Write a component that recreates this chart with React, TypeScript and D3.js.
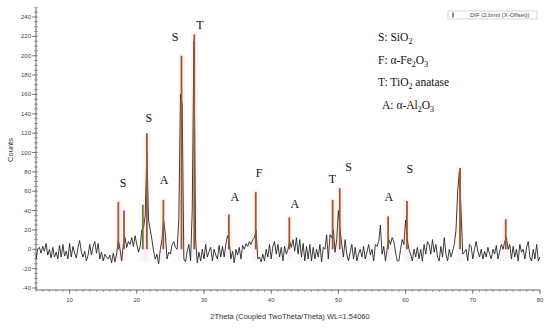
import * as d3 from "d3";

// measured pattern, 2θ from 5° in 0.25° steps
const start = 5;
const step = 0.25;
const counts: number[] = [
  -10, 0, 2, -4,
  3, -2, 6, -6,
  0, -9, 2, -8,
  -3, -10, 4, -8,
  5, -7, -2, -10,
  6, -8, 3, -4,
  -9, 2, 9, -3,
  -8, -2, -12, -6,
  5, -6, 3, 8,
  -4, 6, -10, -3,
  -12, -5, -8, -10,
  -6, -14, -4, -13,
  -5, 10, 0, -12,
  5, 12, 2, 8,
  5, 12, 3, 14,
  5, -3, 3, 20,
  22, 35, 100, 30,
  20, 10, -2, -10,
  -5, -15, 0, 10,
  30, 15, -10, -3,
  -5, 5, 8, 2,
  0, 30, 160, 150,
  -10, -13, -2, 5,
  -12, 40, 215, 10,
  -14, -3, -12, 0,
  -10, 5, -8, -2,
  2, -12, 0, -6,
  -10, 4, -8, 3,
  -8, 5, 14, 8,
  -10, -2, -14, 0,
  -6, 2, -10, 4,
  0, 6, 3, 8,
  5, 10, 12, 20,
  -10, -8, -13, -5,
  -12, 0, -8, 5,
  -10, 3, 8, -5,
  5, -8, 2, -12,
  3, -5, 0, 8,
  2, 10, -2, 12,
  -5, 10, -8, 6,
  -12, 3, -10, 5,
  -12, 2, -10, 0,
  -8, 5, -13, 2,
  0, 15, -10, 15,
  12, 20, -3, 10,
  40, 20, 5, -8,
  10, -5, -12, -3,
  5, -10, 2, -12,
  -5, 0, -8, 3,
  -10, -3, 5, -6,
  0, -12, 5, 3,
  8, 25, -5, 3,
  -12, 0, 10, 5,
  12, 8, -3, -12,
  -12, 0, 10, 5,
  30, 10, 0, -5,
  -12, 0, -8, 2,
  -10, 0, -12, 5,
  -5, 8, 5, -5,
  10, -3, 5, -8,
  -12, 3, -8, 12,
  -5, -12, 0, -8,
  -2, 5, 20, 60,
  80, 40, -5, -3,
  0, -12, 5, 3,
  -10, 0, 8, -2,
  -8, 0, -10, -2,
  -8, 2, -5, -10,
  0, -5, 4, -10,
  -2, 5, 0, 8,
  12, 0, 5, -10,
  3, -8, 0, -12,
  5, -3, 0, -10,
  2, 8, -8, -12,
  0, -10, 5, -12,
  -8,
];

// reference stick positions and heights
const stickPos = [17.25, 18.1, 20.9, 21.5, 23.95, 26.65, 28.55, 33.7, 37.7, 42.7, 49.15, 50.2, 57.4, 60.2, 68.1, 74.9];
const stickHeight = [49, 40, 46, 120, 51, 200, 222, 36, 59, 33, 51, 63, 34, 50, 84, 31];

// phase labels above peaks (2θ, counts at letter centre)
const phaseLabels = ["S", "S", "A", "S", "T", "A", "F", "A", "T", "S", "A", "S"];
const phaseAt = [17.95, 21.8, 24.05, 25.7, 29.4, 34.6, 38.2, 43.5, 49.1, 51.5, 57.5, 60.65];
const phaseY = [69, 136, 72, 219, 232, 54, 79, 47, 73, 85, 54, 83];

const yTicks = [-40, -20, 0, 20, 40, 60, 80, 100, 120, 140, 160, 180, 200, 220, 240];
const xTicks = [10, 20, 30, 40, 50, 60, 70, 80];

const W = 550;
const H = 328;

export default function App() {
  const x = d3.scaleLinear().domain([5, 80]).range([36, 540]);
  const y = d3.scaleLinear().domain([-40, 240]).range([288, 17]);

  const line = d3
    .line<number>()
    .x((_, i) => x(start + i * step))
    .y((d) => y(d));

  const xMinor = d3.range(5, 81, 1);
  const yMinor = d3.range(-40, 251, 5);

  const axisY = 290;
  const axisTop = 8;
  const grey = "#666";

  return (
    <svg
      width={W}
      height={H}
      style={{ position: "absolute", left: 0, top: 0, background: "#fff" }}
    >
      {/* faint pink highlight bands behind peaks */}
      {stickPos.map((p, i) => (
        <rect
          key={`band-${i}`}
          x={x(p) - 3.5}
          y={y(stickHeight[i]) - 2}
          width={7}
          height={y(-12) - y(stickHeight[i]) + 2}
          fill="#fdeaf1"
          fillOpacity={0.55}
        />
      ))}

      {/* axes */}
      <line x1={36} x2={36} y1={axisTop} y2={axisY} stroke={grey} strokeWidth={1} />
      <line x1={36} x2={540} y1={axisY} y2={axisY} stroke={grey} strokeWidth={1} />
      {yMinor.map((v) => (
        <line key={`ym-${v}`} x1={34} x2={38} y1={y(v)} y2={y(v)} stroke={grey} strokeWidth={0.6} />
      ))}
      {yTicks.map((v) => (
        <g key={`yt-${v}`}>
          <line x1={32} x2={36} y1={y(v)} y2={y(v)} stroke={grey} strokeWidth={0.8} />
          <text
            x={31}
            y={y(v) + 2}
            textAnchor="end"
            fontSize={6}
            fontFamily="Liberation Sans, Arial, sans-serif"
            fill="#444"
          >
            {v}
          </text>
        </g>
      ))}
      {xMinor.map((v) => (
        <line key={`xm-${v}`} x1={x(v)} x2={x(v)} y1={axisY} y2={axisY + 2} stroke={grey} strokeWidth={0.6} />
      ))}
      {xTicks.map((v) => (
        <g key={`xt-${v}`}>
          <line x1={x(v)} x2={x(v)} y1={axisY} y2={axisY + 4} stroke={grey} strokeWidth={0.8} />
          <text
            x={x(v)}
            y={axisY + 12}
            textAnchor="middle"
            fontSize={6}
            fontFamily="Liberation Sans, Arial, sans-serif"
            fill="#444"
          >
            {v}
          </text>
        </g>
      ))}

      <text
        transform={`translate(13,150) rotate(-90)`}
        textAnchor="middle"
        fontSize={7.5}
        fontFamily="Liberation Sans, Arial, sans-serif"
        fill="#333"
      >
        Counts
      </text>
      <text
        x={290}
        y={319}
        textAnchor="middle"
        fontSize={7.5}
        fontFamily="Liberation Sans, Arial, sans-serif"
        fill="#333"
      >
        2Theta (Coupled TwoTheta/Theta) WL=1.54060
      </text>

      {/* measured curve */}
      <path d={line(counts) ?? ""} fill="none" stroke="#1a1a1a" strokeWidth={0.85} strokeLinejoin="round" />

      {/* reference sticks */}
      {stickPos.map((p, i) => (
        <line
          key={`st-${i}`}
          x1={x(p)}
          x2={x(p)}
          y1={y(0)}
          y2={y(stickHeight[i])}
          stroke={i === 2 ? "#6a7d3c" : "#9a5a2c"}
          strokeWidth={1.8}
        />
      ))}

      {/* phase letters */}
      {phaseLabels.map((l, i) => (
        <text
          key={`pl-${i}`}
          x={x(phaseAt[i])}
          y={y(phaseY[i]) + 4}
          textAnchor="middle"
          fontSize={12}
          fontFamily="Liberation Serif, Times New Roman, serif"
          fill="#111"
        >
          {l}
        </text>
      ))}

      {/* phase legend */}
      <g fontFamily="Liberation Serif, Times New Roman, serif" fontSize={11.5} fill="#111">
        <text x={378} y={41}>
          S: SiO<tspan fontSize={8} dy={3}>2</tspan>
        </text>
        <text x={378} y={64}>
          F: α-Fe<tspan fontSize={8} dy={3}>2</tspan>
          <tspan dy={-3}>O</tspan>
          <tspan fontSize={8} dy={3}>3</tspan>
        </text>
        <text x={378} y={86}>
          T: TiO<tspan fontSize={8} dy={3}>2</tspan>
          <tspan dy={-3}> anatase</tspan>
        </text>
        <text x={382} y={109}>
          A: α-Al<tspan fontSize={8} dy={3}>2</tspan>
          <tspan dy={-3}>O</tspan>
          <tspan fontSize={8} dy={3}>3</tspan>
        </text>
      </g>

      {/* file legend box */}
      <rect x={448} y={11} width={89} height={8} fill="#fff" stroke="#bbb" strokeWidth={0.6} />
      <line x1={453} x2={453} y1={12.5} y2={17.5} stroke="#9a5a2c" strokeWidth={1.5} />
      <text
        x={470}
        y={17}
        fontSize={6}
        fontFamily="Liberation Sans, Arial, sans-serif"
        fill="#444"
      >
        DIF (2.brml (X-Offset))
      </text>
    </svg>
  );
}
